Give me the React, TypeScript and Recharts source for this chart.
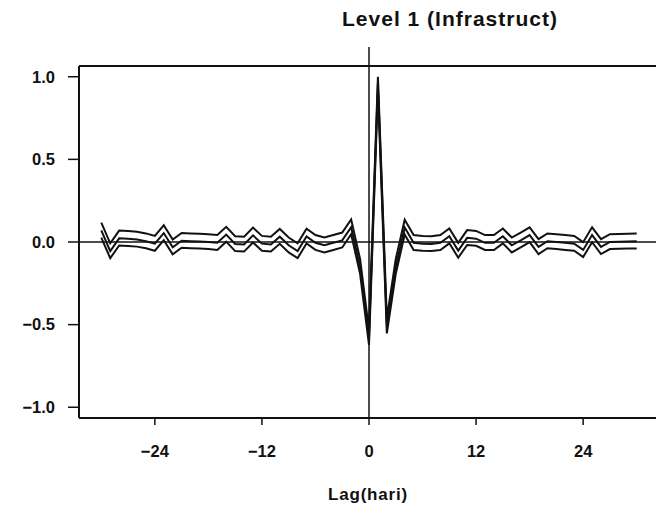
import React from "react";
import { LineChart, Line, XAxis, YAxis, ReferenceLine } from "recharts";

const lags = [
  -30, -29, -28, -27, -26, -25, -24, -23, -22, -21, -20, -19, -18, -17, -16, -15,
  -14, -13, -12, -11, -10, -9, -8, -7, -6, -5, -4, -3, -2, -1, 0, 1, 2, 3, 4, 5,
  6, 7, 8, 9, 10, 11, 12, 13, 14, 15, 16, 17, 18, 19, 20, 21, 22, 23, 24, 25, 26,
  27, 28, 29, 30,
];

const ccf = [
  0.07, -0.055, 0.022, 0.019, 0.015, 0.005, -0.01, 0.054, -0.032, 0.008, 0.005,
  0.003, 0.0, -0.005, 0.045, -0.012, -0.015, 0.04, -0.01, -0.015, 0.032, -0.02,
  -0.055, 0.034, -0.005, -0.02, -0.005, 0.01, 0.09, -0.15, -0.58, 0.96, -0.51,
  -0.15, 0.088, -0.005, -0.01, -0.012, -0.005, 0.035, -0.052, 0.025, 0.02,
  -0.005, -0.005, 0.035, -0.02, 0.01, 0.042, -0.03, 0.005, 0.0, -0.005, -0.01,
  -0.048, 0.042, -0.03, 0.0, 0.002, 0.003, 0.004,
];

const upper = [
  0.117, -0.008, 0.069, 0.066, 0.062, 0.052, 0.037, 0.101, 0.015, 0.055, 0.052,
  0.05, 0.047, 0.042, 0.092, 0.035, 0.032, 0.087, 0.037, 0.032, 0.079, 0.027,
  -0.008, 0.081, 0.042, 0.027, 0.042, 0.057, 0.137, -0.103, -0.533, 1.0, -0.463,
  -0.103, 0.135, 0.042, 0.037, 0.035, 0.042, 0.082, -0.005, 0.072, 0.067, 0.042,
  0.042, 0.082, 0.027, 0.057, 0.089, 0.017, 0.052, 0.047, 0.042, 0.037, -0.001,
  0.089, 0.017, 0.047, 0.049, 0.05, 0.051,
];

const lower = [
  0.027, -0.098, -0.021, -0.024, -0.028, -0.038, -0.053, 0.011, -0.075, -0.035,
  -0.038, -0.04, -0.043, -0.048, 0.002, -0.055, -0.058, -0.003, -0.053, -0.058,
  -0.011, -0.063, -0.098, -0.009, -0.048, -0.063, -0.048, -0.033, 0.047, -0.193,
  -0.623, 0.917, -0.553, -0.193, 0.045, -0.048, -0.053, -0.055, -0.048, -0.008,
  -0.095, -0.018, -0.023, -0.048, -0.048, -0.008, -0.063, -0.033, -0.001,
  -0.073, -0.038, -0.043, -0.048, -0.053, -0.091, -0.001, -0.073, -0.043,
  -0.041, -0.04, -0.039,
];

const xTicks = [-24, -12, 0, 12, 24];
const yTicks = [-1, -0.5, 0, 0.5, 1];

const data = lags.map((lag, i) => ({
  lag,
  ccf: ccf[i],
  upper: upper[i],
  lower: lower[i],
}));

const fmt = (v: number, digits: number) =>
  v < 0 ? "\u2212" + Math.abs(v).toFixed(digits) : v.toFixed(digits);

const FONT = "'Liberation Sans', Arial, Helvetica, sans-serif";
const INK = "#111";

export default function App() {
  return (
    <div
      style={{
        position: "absolute",
        left: 0,
        top: 0,
        width: 656,
        height: 519,
        overflow: "hidden",
        background: "#fff",
        fontFamily: FONT,
      }}
    >
      <div
        style={{
          position: "absolute",
          left: 300,
          width: 300,
          top: 6,
          textAlign: "center",
          fontSize: 21,
          fontWeight: "bold",
          letterSpacing: 1,
          lineHeight: "26px",
          color: INK,
        }}
      >
        Level 1 (Infrastruct)
      </div>
      <div
        style={{
          position: "absolute",
          left: 268,
          width: 200,
          top: 484,
          textAlign: "center",
          fontSize: 17,
          fontWeight: "bold",
          letterSpacing: 0.8,
          lineHeight: "22px",
          color: INK,
        }}
      >
        Lag(hari)
      </div>
      <div style={{ position: "absolute", left: 0, top: 0 }}>
        <LineChart
          width={680}
          height={519}
          data={data}
          margin={{ top: 66, right: 21, bottom: 41, left: 0 }}
        >
          <XAxis
            dataKey="lag"
            type="number"
            domain={[-32.5, 32.5]}
            ticks={xTicks}
            tickFormatter={(v: number) => fmt(v, 0)}
            height={60}
            axisLine={{ stroke: INK, strokeWidth: 2 }}
            tickLine={{ stroke: INK, strokeWidth: 1.5 }}
            tickSize={7}
            tickMargin={20}
            tick={{ fill: INK, fontSize: 16.5, fontWeight: "bold", fontFamily: FONT }}
            allowDataOverflow
          />
          <YAxis
            type="number"
            domain={[-1.065, 1.065]}
            ticks={yTicks}
            tickFormatter={(v: number) => fmt(v, 1)}
            width={79}
            axisLine={{ stroke: INK, strokeWidth: 2 }}
            tickLine={{ stroke: INK, strokeWidth: 1.5 }}
            tickSize={11}
            tickMargin={13}
            tick={{ fill: INK, fontSize: 16.5, fontWeight: "bold", fontFamily: FONT }}
            allowDataOverflow
          />
          <ReferenceLine y={1.065} stroke={INK} strokeWidth={2} />
          <ReferenceLine y={0} stroke={INK} strokeWidth={1.5} />
          <ReferenceLine
            segment={[
              { x: 0, y: -1.065 },
              { x: 0, y: 1.18 },
            ]}
            stroke={INK}
            strokeWidth={1.5}
            ifOverflow="visible"
          />
          <Line
            dataKey="upper"
            stroke={INK}
            strokeWidth={2}
            dot={false}
            isAnimationActive={false}
          />
          <Line
            dataKey="ccf"
            stroke={INK}
            strokeWidth={2}
            dot={false}
            isAnimationActive={false}
          />
          <Line
            dataKey="lower"
            stroke={INK}
            strokeWidth={2}
            dot={false}
            isAnimationActive={false}
          />
        </LineChart>
      </div>
    </div>
  );
}
